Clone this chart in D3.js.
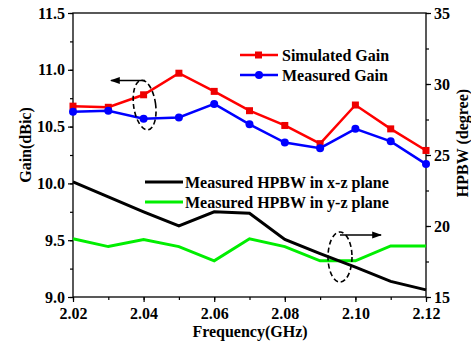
<!DOCTYPE html>
<html><head><meta charset="utf-8">
<script src="https://cdn.jsdelivr.net/npm/d3@7"></script>
<style>body{margin:0;background:#fff}svg{display:block}text{font-family:"Liberation Serif","Times New Roman",serif;font-weight:bold;fill:#000}</style>
</head><body><svg id="c" width="471" height="349"></svg>
<script>
const freq = [2.02,2.03,2.04,2.05,2.06,2.07,2.08,2.09,2.10,2.11,2.12];
const simGain = [10.68,10.67,10.78,10.97,10.81,10.64,10.51,10.35,10.69,10.48,10.29];
const measGain = [10.63,10.64,10.57,10.58,10.70,10.52,10.36,10.31,10.48,10.37,10.17];
const hpbwXZ = [23.1,22.05,21.0,20.0,21.0,20.9,19.05,18.05,17.1,16.1,15.5];
const hpbwYZ = [19.1,18.55,19.05,18.55,17.55,19.1,18.55,17.55,17.55,18.6,18.6];
const xTicks = [2.02,2.04,2.06,2.08,2.10,2.12];
const gainTicks = [9.0,9.5,10.0,10.5,11.0,11.5];
const hpbwTicks = [15,20,25,30,35];
const legendGain = ["Simulated Gain","Measured Gain"];
const legendHpbw = ["Measured HPBW in x-z plane","Measured HPBW in y-z plane"];

const svg = d3.select("#c");
const L=73,R=426,T=13,B=297;
const x = d3.scaleLinear().domain([2.02,2.12]).range([L,R]);
const yL = d3.scaleLinear().domain([9,11.5]).range([B,T]);
const yR = d3.scaleLinear().domain([15,35]).range([B,T]);

// frame
svg.append("rect").attr("x",L).attr("y",T).attr("width",R-L).attr("height",B-T).attr("fill","none").attr("stroke","#000").attr("stroke-width",1.3);

function styleAxis(g){ g.select(".domain").remove(); g.selectAll("line").attr("stroke","#000").attr("stroke-width",1.2); g.selectAll("text").style("font-size","16px"); }
// minor ticks
const xMinor = d3.range(11).map(i=>2.02+i*0.01);
svg.append("g").attr("transform",`translate(0,${B})`).call(d3.axisBottom(x).tickValues(xMinor).tickSize(3).tickFormat("")).call(styleAxis);
svg.append("g").attr("transform",`translate(0,${B})`).call(d3.axisBottom(x).tickValues(xTicks).tickSize(5).tickPadding(6).tickFormat(d3.format(".2f"))).call(styleAxis);
svg.append("g").attr("transform",`translate(${L},0)`).call(d3.axisLeft(yL).tickValues(d3.range(11).map(i=>9+i*0.25)).tickSize(3).tickFormat("")).call(styleAxis);
svg.append("g").attr("transform",`translate(${L},0)`).call(d3.axisLeft(yL).tickValues(gainTicks).tickSize(5).tickPadding(3).tickFormat(d3.format(".1f"))).call(styleAxis);
svg.append("g").attr("transform",`translate(${R},0)`).call(d3.axisRight(yR).tickValues(d3.range(9).map(i=>15+i*2.5)).tickSize(3).tickFormat("")).call(styleAxis);
svg.append("g").attr("transform",`translate(${R},0)`).call(d3.axisRight(yR).tickValues(hpbwTicks).tickSize(5).tickPadding(3).tickFormat(d3.format("d"))).call(styleAxis);

// titles
svg.append("text").attr("x",250).attr("y",337).attr("text-anchor","middle").style("font-size","16px").text("Frequency(GHz)");
svg.append("text").attr("transform","translate(31,145) rotate(-90)").attr("text-anchor","middle").style("font-size","16px").text("Gain(dBic)");
svg.append("text").attr("transform","translate(468,143) rotate(-90)").attr("text-anchor","middle").style("font-size","16px").text("HPBW (degree)");

// lines
const lineL = d3.line().x((d,i)=>x(freq[i])).y(d=>yL(d));
const lineR = d3.line().x((d,i)=>x(freq[i])).y(d=>yR(d));
svg.append("path").attr("d",lineR(hpbwYZ)).attr("fill","none").attr("stroke","#00ee00").attr("stroke-width",3);
svg.append("path").attr("d",lineR(hpbwXZ)).attr("fill","none").attr("stroke","#000").attr("stroke-width",3);
svg.append("path").attr("d",lineL(simGain)).attr("fill","none").attr("stroke","#ff0000").attr("stroke-width",2.5);
svg.selectAll(".sq").data(simGain).enter().append("rect").attr("x",(d,i)=>x(freq[i])-3.5).attr("y",d=>yL(d)-3.5).attr("width",7).attr("height",7).attr("fill","#ee0000");
svg.append("path").attr("d",lineL(measGain)).attr("fill","none").attr("stroke","#0000ff").attr("stroke-width",2.5);
svg.selectAll(".ci").data(measGain).enter().append("circle").attr("cx",(d,i)=>x(freq[i])).attr("cy",d=>yL(d)).attr("r",4).attr("fill","#0000ff");

// legends
const lg = [[55,"#ff0000","sq"],[75,"#0000ff","ci"]];
lg.forEach((l,i)=>{
  svg.append("line").attr("x1",240).attr("x2",278).attr("y1",l[0]).attr("y2",l[0]).attr("stroke",l[1]).attr("stroke-width",2.5);
  if(l[2]==="sq") svg.append("rect").attr("x",255).attr("y",l[0]-3.5).attr("width",7).attr("height",7).attr("fill","#ee0000");
  else svg.append("circle").attr("cx",259).attr("cy",l[0]).attr("r",4).attr("fill",l[1]);
  svg.append("text").attr("x",282).attr("y",l[0]+5.5).style("font-size","16px").text(legendGain[i]);
});
const lh = [[182,"#000"],[202,"#00ee00"]];
lh.forEach((l,i)=>{
  svg.append("line").attr("x1",145).attr("x2",183).attr("y1",l[0]).attr("y2",l[0]).attr("stroke",l[1]).attr("stroke-width",3);
  svg.append("text").attr("x",185).attr("y",l[0]+5.5).style("font-size","16px").text(legendHpbw[i]);
});

// annotation ellipses & arrows
svg.append("defs").append("marker").attr("id","ah").attr("viewBox","0 0 10 10").attr("refX",9).attr("refY",5)
  .attr("markerWidth",7).attr("markerHeight",7).attr("orient","auto").append("path").attr("d","M0,1.5 L10,5 L0,8.5 Z").attr("fill","#000");
svg.append("ellipse").attr("cx",x(2.04)+1).attr("cy",105).attr("rx",11).attr("ry",25).attr("transform",`rotate(-8,${x(2.04)+1},105)`).attr("fill","none").attr("stroke","#000").attr("stroke-width",1.6).attr("stroke-dasharray","5,3");
svg.append("line").attr("x1",145).attr("x2",111).attr("y1",80.5).attr("y2",80.5).attr("stroke","#000").attr("stroke-width",1.4).attr("marker-end","url(#ah)");
svg.append("ellipse").attr("cx",340).attr("cy",257).attr("rx",12).attr("ry",25).attr("fill","none").attr("stroke","#000").attr("stroke-width",1.6).attr("stroke-dasharray","5,3");
svg.append("line").attr("x1",340).attr("x2",381).attr("y1",235).attr("y2",235).attr("stroke","#000").attr("stroke-width",1.4).attr("marker-end","url(#ah)");
</script></body></html>
